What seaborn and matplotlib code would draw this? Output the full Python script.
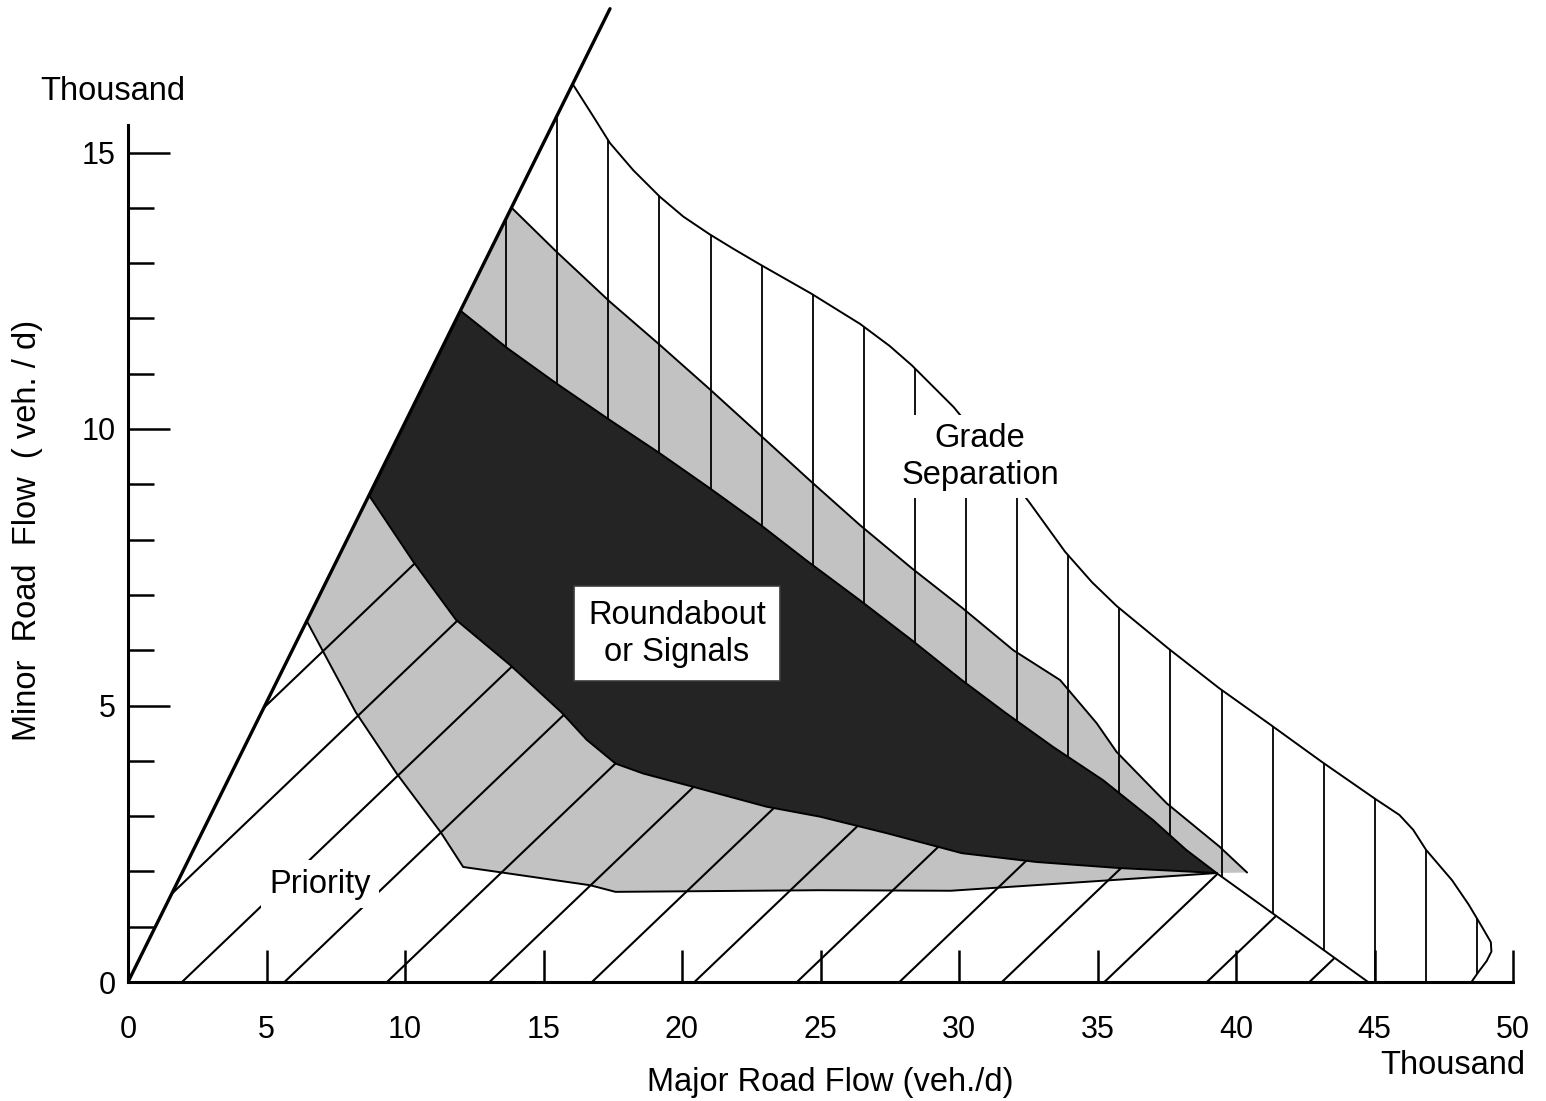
import numpy as np
import matplotlib
matplotlib.use("Agg")
import matplotlib.pyplot as plt
import seaborn as sns
from matplotlib.patches import Polygon

# ---------------- data (thousand veh/d) ----------------
# left limit line of the diagram
outer_x = [0.0, 17.4]
outer_y = [0.0, 17.6]

# upper limit of grade separation (starts at its peak on the left limit line)
grade_upper_x = [16.05, 16.8, 17.4, 18.24, 19.2, 20.05, 21.0, 21.85, 22.8, 24.66, 26.43,
                 27.5, 28.3, 29.8, 31.2, 32.56, 33.83, 34.8, 35.69, 37.56, 39.4, 41.25, 43.1,
                 45.0, 45.9, 46.4, 46.86, 47.8, 48.4, 48.9, 49.2, 49.22, 49.05, 48.75, 48.5]
grade_upper_y = [16.24, 15.65, 15.17, 14.68, 14.2, 13.84, 13.52, 13.26, 12.98, 12.45, 11.9,
                 11.5, 11.15, 10.4, 9.55, 8.66, 7.78, 7.23, 6.8, 6.03, 5.31, 4.65, 3.98,
                 3.32, 3.02, 2.75, 2.39, 1.84, 1.4, 0.98, 0.72, 0.55, 0.38, 0.18, 0.0]

# lower limit of grade separation (top of the upper transition band)
grade_lower_x = [13.85, 15.48, 17.4, 19.2, 21.0, 22.8, 24.66, 26.43, 28.3, 30.13, 31.96,
                 33.65, 34.97, 35.69, 37.5, 39.4, 40.4]
grade_lower_y = [14.0, 13.2, 12.3, 11.52, 10.72, 9.9, 9.05, 8.26, 7.48, 6.76, 6.0,
                 5.46, 4.68, 4.16, 3.23, 2.45, 1.98]

# roundabout / signals zone, upper and lower limits (both end at the tip)
dark_upper_x = [12.0, 13.7, 15.45, 17.4, 19.2, 21.0, 22.8, 24.5, 26.43, 28.3, 30.1, 31.7,
                33.4, 35.2, 37.0, 38.2, 39.3]
dark_upper_y = [12.14, 11.46, 10.83, 10.16, 9.56, 8.93, 8.28, 7.62, 6.9, 6.18, 5.46, 4.86,
                4.25, 3.65, 2.93, 2.39, 1.97]
dark_lower_x = [8.7, 10.3, 11.84, 13.8, 15.64, 16.56, 17.6, 18.6, 20.4, 23.05, 24.98, 27.4,
                30.1, 32.8, 35.8, 38.2, 39.3]
dark_lower_y = [8.8, 7.6, 6.55, 5.73, 4.88, 4.38, 3.95, 3.77, 3.53, 3.17, 2.99, 2.69,
                2.33, 2.17, 2.06, 2.0, 1.97]

# lower limit of the priority / roundabout transition band
gray_lower_x = [6.45, 8.22, 9.7, 11.3, 12.1, 13.5, 16.68, 17.6, 24.98, 29.7, 35.45, 39.3]
gray_lower_y = [6.53, 4.88, 3.77, 2.7, 2.08, 1.98, 1.75, 1.63, 1.66, 1.65, 1.84, 1.97]

# boundary priority / grade separation below the tip
split_x = [39.3, 44.77]
split_y = [1.97, 0.0]

x_ticks = list(range(0, 51, 5))
y_ticks = [0, 5, 10, 15]
y_minor = [v for v in range(1, 15) if v % 5]

labels = {
    "Priority": (6.93, 1.77),
    "Roundabout\nor Signals": (19.82, 6.3),
    "Grade\nSeparation": (30.76, 9.5),
}

# ---------------- styling ----------------
sns.set_theme(style="white")
plt.rcParams['font.family'] = ['Liberation Sans', 'DejaVu Sans']

W, H = 1546, 1101
fig = plt.figure(figsize=(W / 100, H / 100), dpi=100)
ax = fig.add_axes([128 / W, 119 / H, 1385 / W, 982 / H])
ax.set_xlim(0, 50)
ax.set_ylim(0, 982 / 55.3)

LIGHT = '#c2c2c2'
DARK = '#242424'

def pts(xs, ys):
    return list(zip(xs, ys))

# polygons built from the boundary arrays
priority_poly = [(0.0, 0.0)] + pts(dark_lower_x, dark_lower_y) + [(split_x[1], split_y[1])]
grade_poly = ([(dark_upper_x[0], dark_upper_y[0])] + pts(grade_upper_x, grade_upper_y)
              + [(split_x[1], split_y[1])] + pts(dark_upper_x, dark_upper_y)[::-1])
upper_band = ([(dark_upper_x[0], dark_upper_y[0])] + pts(grade_lower_x, grade_lower_y)
              + pts(dark_upper_x, dark_upper_y)[::-1])
lower_band = pts(dark_lower_x, dark_lower_y) + pts(gray_lower_x, gray_lower_y)[::-1]
dark_poly = pts(dark_upper_x, dark_upper_y) + pts(dark_lower_x, dark_lower_y)[::-1]

clip_pri = Polygon(priority_poly, closed=True, fill=False, lw=0, transform=ax.transData)
clip_gra = Polygon(grade_poly, closed=True, fill=False, lw=0, transform=ax.transData)
ax.add_patch(clip_pri)
ax.add_patch(clip_gra)

ax.add_patch(Polygon(upper_band, closed=True, facecolor=LIGHT, edgecolor='none', zorder=1))
ax.add_patch(Polygon(lower_band, closed=True, facecolor=LIGHT, edgecolor='none', zorder=1))
ax.add_patch(Polygon(dark_poly, closed=True, facecolor=DARK, edgecolor='none', zorder=1.5))

# hatching: diagonal lines for priority, vertical lines for grade separation
diag_slope = 0.479
for x0 in np.arange(-5.45, 48, 3.70):
    xs = np.array([x0, x0 + 40])
    ln, = ax.plot(xs, diag_slope * (xs - x0), color='black', lw=1.5, zorder=2)
    ln.set_clip_path(clip_pri)
for xv in np.arange(13.65, 50, 1.845):
    ln, = ax.plot([xv, xv], [0, 18], color='black', lw=1.3, zorder=2)
    ln.set_clip_path(clip_gra)

# boundaries
line_kw = dict(color='black', sort=False, estimator=None, ax=ax, zorder=3)
sns.lineplot(x=outer_x, y=outer_y, lw=2.4, **line_kw)
for bx, by in [(grade_upper_x, grade_upper_y), (grade_lower_x, grade_lower_y),
               (dark_upper_x, dark_upper_y), (dark_lower_x, dark_lower_y),
               (gray_lower_x, gray_lower_y), (split_x, split_y)]:
    sns.lineplot(x=bx, y=by, lw=1.4, **line_kw)
for ln in ax.lines[-7:]:
    ln.set_solid_joinstyle('round')
ax.lines[-1].set_clip_on(False)

# region labels
txt_kw = dict(ha='center', va='center', fontsize=23.5, color='black', zorder=6, linespacing=1.25)
for text, (tx, ty) in labels.items():
    if text.startswith("Roundabout"):
        box = dict(boxstyle='square,pad=0.42', facecolor='white', edgecolor='#3a3a3a', lw=1.2)
    elif text == "Priority":
        box = dict(boxstyle='square,pad=0.25', facecolor='white', edgecolor='none')
    else:
        box = dict(boxstyle='square,pad=0.22', facecolor='white', edgecolor='none')
    ax.text(tx, ty, text, bbox=box, **txt_kw)

# axes
for s in ['top', 'right']:
    ax.spines[s].set_visible(False)
for s in ['left', 'bottom']:
    ax.spines[s].set_color('black')
    ax.spines[s].set_linewidth(2.2)
    ax.spines[s].set_zorder(4)
ax.spines['left'].set_bounds(0, 15.5)
ax.spines['bottom'].set_bounds(0, 50)
ax.spines['bottom'].set_clip_on(False)

ax.set_xticks(x_ticks)
ax.set_xticklabels([str(v) for v in x_ticks])
ax.set_yticks(y_ticks)
ax.set_yticklabels([str(v) for v in y_ticks])
ax.set_yticks(y_minor, minor=True)
ax.tick_params(axis='x', which='major', direction='in', length=23, width=1.8, color='black',
               labelsize=22, pad=24, bottom=True, labelcolor='black')
ax.tick_params(axis='y', which='major', direction='in', length=30, width=1.8, color='black',
               labelsize=22, pad=9, left=True, labelcolor='black')
ax.tick_params(axis='y', which='minor', direction='in', length=19, width=1.8, color='black',
               left=True)
for t in ax.xaxis.get_major_ticks() + ax.yaxis.get_major_ticks() + ax.yaxis.get_minor_ticks():
    t.tick1line.set_clip_on(False)

ax.set_xlabel("Major Road Flow (veh./d)", fontsize=23.5, color='black')
ax.xaxis.set_label_coords((830 - 128) / 1385, (982 - 1083) / 982)
ax.xaxis.label.set_va('center')
ax.set_ylabel("Minor  Road  Flow  ( veh. / d)", fontsize=23.5, color='black')
ax.yaxis.set_label_coords((28 - 128) / 1385, (982 - 530) / 982)
ax.yaxis.label.set_va('center')

fig.text(40 / W, 1 - 92 / H, "Thousand", fontsize=23.5, ha='left', va='center', color='black')
fig.text(1380 / W, 1 - 1065 / H, "Thousand", fontsize=23.5, ha='left', va='center', color='black')

fig.savefig("out.png", dpi=100, facecolor='white')
